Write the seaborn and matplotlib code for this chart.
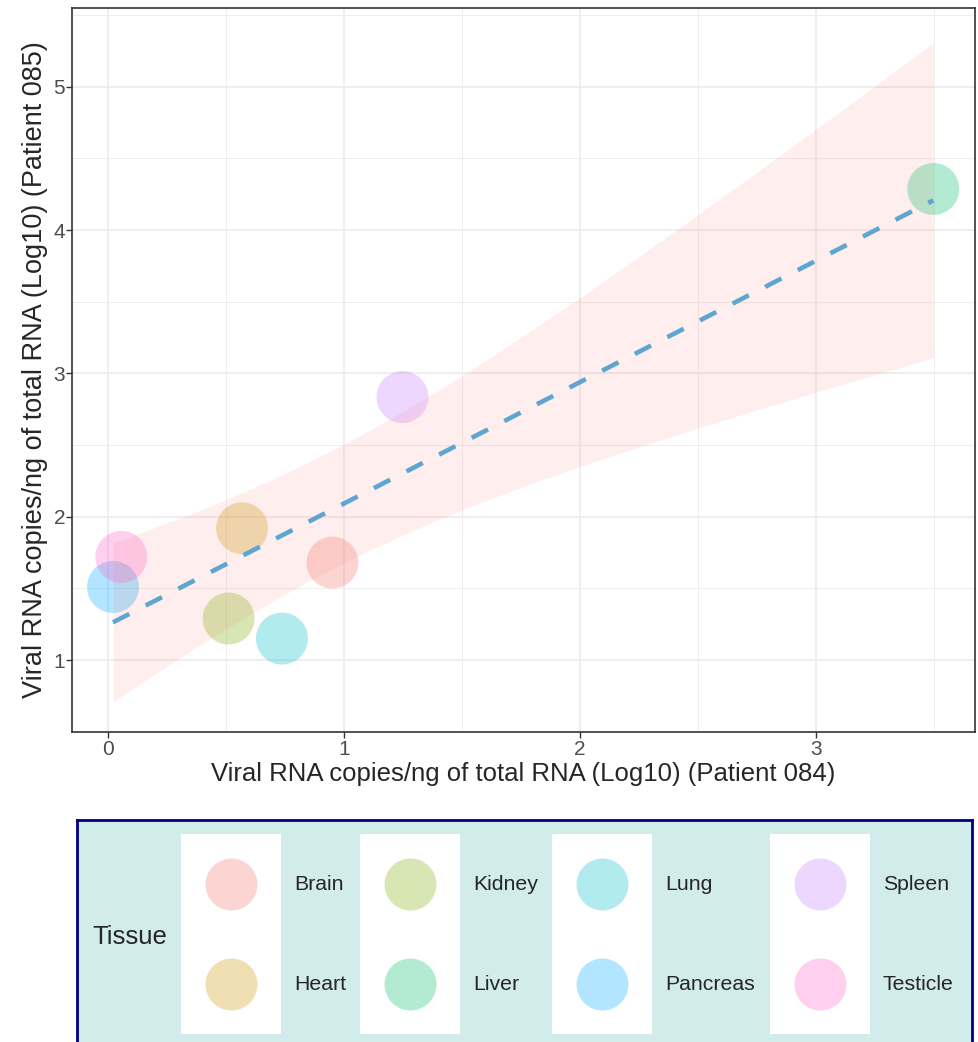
import numpy as np
import pandas as pd
import matplotlib
matplotlib.use("Agg")
import matplotlib.pyplot as plt
from matplotlib.patches import Rectangle
from matplotlib.ticker import MultipleLocator
import seaborn as sns

# data
tissues = ["Brain", "Heart", "Kidney", "Liver", "Lung", "Pancreas", "Spleen", "Testicle"]
patient_084 = [0.95, 0.567, 0.51, 3.497, 0.736, 0.02, 1.247, 0.055]
patient_085 = [1.68, 1.92, 1.29, 4.287, 1.15, 1.51, 2.835, 1.72]
tissue_colors = ["#F8766D", "#CD9600", "#7CAE00", "#00BE67",
                 "#00BFC4", "#00A9FF", "#C77CFF", "#FF61CC"]
x_ticks = [0, 1, 2, 3]
y_ticks = [1, 2, 3, 4, 5]

df = pd.DataFrame({"Tissue": tissues, "p084": patient_084, "p085": patient_085})
palette = dict(zip(tissues, tissue_colors))

sns.set_theme(style="white")
plt.rcParams["font.family"] = ["Liberation Sans", "DejaVu Sans"]

fig = plt.figure(figsize=(9.79, 10.42), dpi=100)
W, H = 979, 1042
ax = fig.add_axes([72 / W, 310 / H, 903 / W, 724 / H])

# linear fit + 95% t confidence band (like geom_smooth(method="lm"))
x = df["p084"].to_numpy()
y = df["p085"].to_numpy()
n = len(x)
slope, intercept = np.polyfit(x, y, 1)
xs = np.linspace(x.min(), x.max(), 100)
fit = intercept + slope * xs
resid = y - (intercept + slope * x)
s = np.sqrt((resid ** 2).sum() / (n - 2))
se = s * np.sqrt(1 / n + (xs - x.mean()) ** 2 / ((x - x.mean()) ** 2).sum())
t_crit = 2.4469  # t(0.975, df=6)

sns.scatterplot(data=df, x="p084", y="p085", hue="Tissue", palette=palette,
                s=1400, alpha=0.3, linewidth=0, legend=False, ax=ax, zorder=3)
ax.fill_between(xs, fit - t_crit * se, fit + t_crit * se,
                color="#F8766D", alpha=0.11, linewidth=0, zorder=4)
sns.regplot(data=df, x="p084", y="p085", scatter=False, ci=None, ax=ax,
            color="#5FA5D2", truncate=True,
            line_kws=dict(lw=3.3, ls=(0, (4, 4)), dash_capstyle="butt", zorder=5))

ax.set_xlim(-0.154, 3.674)
ax.set_ylim(0.498, 5.55)
ax.set_xticks(x_ticks)
ax.set_yticks(y_ticks)
ax.xaxis.set_minor_locator(MultipleLocator(0.5))
ax.yaxis.set_minor_locator(MultipleLocator(0.5))
ax.grid(which="major", color="#EBEBEB", lw=1.2, zorder=0)
ax.grid(which="minor", color="#EBEBEB", lw=0.6, zorder=0)
ax.set_axisbelow(True)
ax.tick_params(which="major", length=4, width=1, color="#333333",
               labelsize=15, labelcolor="#4D4D4D", bottom=True, left=True)
ax.tick_params(axis="x", pad=2)
ax.tick_params(axis="y", pad=1)
ax.tick_params(which="minor", length=0)
for sp in ax.spines.values():
    sp.set_color("#333333")
    sp.set_linewidth(1.2)
ax.set_xlabel("Viral RNA copies/ng of total RNA (Log10) (Patient 084)", fontsize=18.5, labelpad=2)
ax.set_ylabel("Viral RNA copies/ng of total RNA (Log10) (Patient 085)", fontsize=19.5, labelpad=4)

# legend box at the bottom
lg = fig.add_axes([77 / W, -8 / H, 895 / W, 230 / H])
lg.set_xlim(0, 895)
lg.set_ylim(0, 230)
lg.set_facecolor("#D2ECEC")
for sp in lg.spines.values():
    sp.set_color("#000080")
    sp.set_linewidth(2)
lg.set_xticks([])
lg.set_yticks([])
lg.text(15, 113, "Tissue", fontsize=18.5, va="center", ha="left")

col_left = [104, 283, 475, 693]
row_y = [166, 66]
for i, t in enumerate(tissues):
    c, r = divmod(i, 2)
    x0 = col_left[c]
    lg.add_patch(Rectangle((x0, row_y[r] - 50), 100, 100, facecolor="white",
                           edgecolor="none", zorder=1))
    lg.scatter([x0 + 50], [row_y[r]], s=1400, color=palette[t], alpha=0.3,
               linewidth=0, zorder=2)
    lg.text(x0 + 113, row_y[r], t, fontsize=15.3, va="center", ha="left")

fig.savefig("out.png", dpi=100)
